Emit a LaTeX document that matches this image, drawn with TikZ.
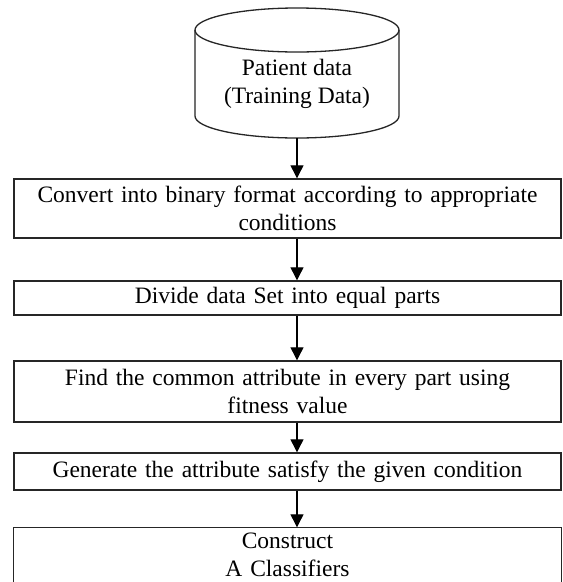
\documentclass[tikz,border=0pt]{standalone}
\usepackage{fontspec}
\setmainfont{Liberation Serif}
\usetikzlibrary{arrows.meta,calc}
\begin{document}
\begin{tikzpicture}[x=1pt,y=-1pt,
  txt/.style={font=\fontsize{23.5}{28}\selectfont, align=center, inner sep=0pt},
  flowbox/.style={txt, draw=black!85, line width=1.4pt, minimum width=547pt, text width=535pt},
  arr/.style={line width=1.2pt, -{Triangle[length=13pt,width=13pt]}}]
\useasboundingbox[fill=white] (0,0) rectangle (563,582);
% cylinder
\draw[line width=1.3pt, draw=black!85] (195,30) -- (195,116)
  arc[start angle=180, end angle=360, x radius=102pt, y radius=22pt] -- (399,30);
\draw[line width=1.3pt, draw=black!85] (297,30) ellipse[x radius=102pt, y radius=22pt];
\node[txt] (cyl) at (297,84) {Patient data\\(Training Data)};
\coordinate (cylbot) at (297,138);
% boxes
\node[flowbox, minimum height=59pt] (b1) at (287.5,208.5) {Convert into binary format according to appropriate\\conditions};
\node[flowbox, minimum height=34pt] (b2) at (287.5,298) {Divide data Set into equal parts};
\node[flowbox, minimum height=61pt] (b3) at (287.5,391.5) {Find the common attribute in every part using\\fitness value};
\node[flowbox, minimum height=37pt] (b4) at (287.5,471.5) {Generate the attribute  satisfy the given condition};
\node[flowbox, draw=none, minimum height=54pt] (b5) at (287.5,555) {Construct\\A Classifiers};
\draw[draw=black!85, line width=1.4pt] (b5.south west) -- (b5.north west) -- (b5.north east) -- (b5.south east);
% arrows
\draw[arr] (cylbot) -- (b1.north -| cylbot);
\draw[arr] (b1.south -| cylbot) -- (b2.north -| cylbot);
\draw[arr] (b2.south -| cylbot) -- (b3.north -| cylbot);
\draw[arr] (b3.south -| cylbot) -- (b4.north -| cylbot);
\draw[arr] (b4.south -| cylbot) -- (b5.north -| cylbot);
\end{tikzpicture}
\end{document}
